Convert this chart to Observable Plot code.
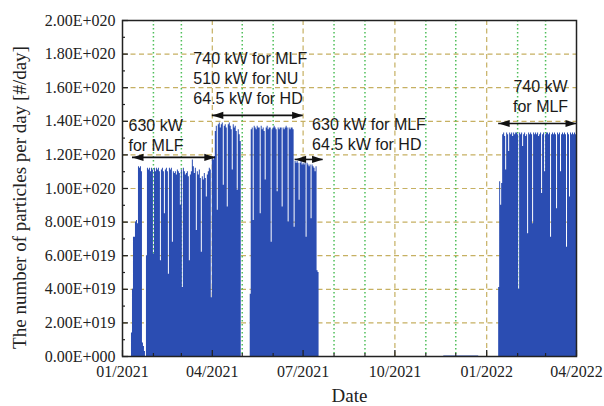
<!DOCTYPE html>
<html><head><meta charset="utf-8">
<script src="https://cdn.jsdelivr.net/npm/d3@7"></script>
<script src="https://cdn.jsdelivr.net/npm/@observablehq/plot@0.6"></script>
<style>body{margin:0;background:#fff;} #chart svg{display:block;}</style>
</head><body><div id="chart"></div>
<script>
// values in units of 1e19 particles/day
const UNIT = 1e19;
const segAStart = "2021-01-10";
const segA = [1.4,4.0,7.1,7.1,8.0,8.1,7.9,11.3,11.2,11.3,11.0,0.8,0.6,0.3,0,6.0,
 11.2,11.1,11.2,11.0,11.2,11.1,6.1,11.2,11.0,11.2,11.1,11.2,11.0,5.7,11.1,11.2,11.0,8.5,11.1,11.2,11.0,4.9,
 11.2,11.1,11.2,6.8,11.0,10.9,11.0,10.8,11.1,11.0,10.9,9.0,11.1,4.1,11.2,11.0,10.8,10.9,11.0,10.7,5.7,10.8,
 11.0,11.7,11.3,10.9,11.2,7.5,11.0,10.8,11.1,10.6,6.2,10.7,10.5,10.9,10.6,9.5,10.8,11.0,11.2,11.1,3.5,
 11.8,11.7,11.9,13.4,13.7,8.7,13.8,13.9,13.6,13.8,13.9,10.2,13.7,13.8,13.6,8.9,13.8,13.9,13.7,13.5,11.1,
 13.8,13.6,13.7,13.4,9.9,13.5,13.2,12.8];
const segBStart = "2021-05-09";
const segB = [3.7,13.5,13.6,8.1,13.7,13.6,13.5,13.7,13.6,13.6,8.5,13.7,13.5,13.6,13.4,10.5,13.6,13.7,13.5,
 13.6,13.6,6.8,13.5,13.6,13.7,13.6,13.5,9.8,13.6,13.5,13.6,13.6,8.9,13.6,13.5,13.6,13.7,13.6,8.0,13.6,13.5,
 13.6,13.6,13.5,7.7,11.6,11.5,11.6,11.5,9.3,11.5,11.6,11.4,11.5,11.4,11.5,7.1,11.5,11.4,11.3,11.4,8.2,
 11.4,11.3,11.2,11.0,11.3,5.1,5.0];
const segLowStart = "2021-11-19";
const segLow = [0.03,0.03,0.03,0.03,0.03,0.03,0.03,0.03,0.03,0.03,0.03,0.03,0.03,0.03,0.03,0.03,0.03,0.03,
 0.03,0.03,0.03,0.03,0.03,0.03,0.03,0.03,0.03,0.03,0.03,0.03,0.03,0.03,0.03,0.03,0.03];
const segCStart = "2022-01-13";
const segC = [4.1,10.4,9.0,10.3,13.2,13.3,13.1,11.1,13.3,13.2,12.2,13.3,13.2,13.3,13.1,13.3,13.2,13.3,13.3,
 13.2,4.0,13.3,13.2,13.3,12.5,13.2,13.3,13.1,13.2,7.3,13.3,13.2,13.3,13.2,7.9,13.3,13.2,13.3,13.2,13.3,13.1,
 13.2,13.3,9.7,13.2,13.3,11.0,13.2,13.3,13.3,13.2,13.3,7.1,13.2,13.3,13.2,13.3,13.2,8.8,13.3,13.2,13.3,11.0,
 13.2,13.3,13.2,13.3,13.2,6.5,13.3,13.2,9.5,13.3,13.2,13.3,13.2,13.3,13.2];

const xDomain = ["2021-01-01", "2022-04-01"];
const xMajorTicks = ["2021-01-01","2021-04-01","2021-07-01","2021-10-01","2022-01-01","2022-04-01"];
const yMajorTicks = [0,2,4,6,8,10,12,14,16,18,20];
const yMinorTicks = [1,3,5,7,9,11,13,15,17,19];

// annotations
const noteTexts = ["630 kW\nfor MLF", "740 kW for MLF\n510 kW for NU\n64.5 kW for HD", "630 kW for MLF\n64.5 kW for HD", "740 kW\nfor MLF"];
const noteDates = ["2021-01-07", "2021-03-13", "2021-07-10", "2022-02-24"];
const noteValues = [13.21, 16.6, 13.27, 15.54];
const noteAnchors = ["start", "start", "start", "middle"];
const arrowFrom = ["2021-01-11", "2021-04-01", "2021-06-23", "2022-01-13"];
const arrowTo = ["2021-04-04", "2021-07-01", "2021-07-21", "2022-04-01"];
const arrowValues = [11.85, 14.35, 11.73, 13.87];

const xLabel = "Date";
const yLabel = "The number of particles per day [#/day]";

// build daily series
const t0 = new Date(xDomain[0]), t1 = new Date(xDomain[1]);
const days = d3.utcDay.range(t0, t1);
const vals = new Array(days.length).fill(0);
function place(startStr, arr) {
  const off = d3.utcDay.count(t0, new Date(startStr));
  arr.forEach((v, i) => { if (off + i < vals.length) vals[off + i] = v; });
}
place(segAStart, segA); place(segBStart, segB); place(segLowStart, segLow); place(segCStart, segC);
const series = days.map((d, i) => ({date: d, v: vals[i] * UNIT}));
series.push({date: t1, v: vals[vals.length - 1] * UNIT});

const months = d3.utcMonth.range(t0, d3.utcDay.offset(t1, 1));
const quarterSet = new Set(xMajorTicks.map(s => +new Date(s)));
const minorMonths = months.filter(d => !quarterSet.has(+d));
const majorDates = xMajorTicks.map(s => new Date(s));

const notes = noteTexts.map((t, i) => ({t, date: new Date(noteDates[i]), v: noteValues[i] * UNIT, a: noteAnchors[i]}));
const arrows = arrowFrom.map((a, i) => ({a: new Date(a), b: new Date(arrowTo[i]), v: arrowValues[i] * UNIT}));

const fmt = v => {
  if (v === 0) return "0.00E+000";
  const e = Math.floor(Math.log10(v) + 1e-9);
  const m = v / Math.pow(10, e);
  return m.toFixed(2) + "E+" + String(e).padStart(3, "0");
};
const headRight = {draw(ctx) { ctx.moveTo(0, 0); ctx.lineTo(-11, -3.6); ctx.lineTo(-11, 3.6); ctx.closePath(); }};
const headLeft = {draw(ctx) { ctx.moveTo(0, 0); ctx.lineTo(11, -3.6); ctx.lineTo(11, 3.6); ctx.closePath(); }};

const BLUE = "#2b4db2";
const TAN = "#c6b062";
const GREEN = "#4fbf5a";
const SANS = "Liberation Sans, Arial, sans-serif";
const SERIF = "Liberation Serif, Times New Roman, serif";

const chart = Plot.plot({
  width: 604, height: 406,
  marginLeft: 122, marginRight: 28, marginTop: 20, marginBottom: 50,
  style: {fontFamily: SERIF, fontSize: "16px", color: "#222", background: "#fff"},
  x: {type: "utc", domain: [t0, t1]},
  y: {domain: [0, 20 * UNIT]},
  marks: [
    Plot.ruleY(yMajorTicks.slice(1, -1).map(k => k * UNIT), {stroke: TAN, strokeDasharray: "5,3.5", strokeWidth: 1.2}),
    Plot.ruleX(minorMonths, {stroke: GREEN, strokeDasharray: "1.5,2.5", strokeWidth: 1.5}),
    Plot.ruleX(majorDates.slice(1, -1), {stroke: TAN, strokeDasharray: "5,3.5", strokeWidth: 1.2}),
    Plot.areaY(series, {x: "date", y: "v", curve: "step-after", fill: BLUE}),
    Plot.axisY(yMajorTicks.map(k => k * UNIT), {tickSize: -6, tickPadding: 13, tickFormat: fmt, label: null, fontSize: 16, fontFamily: SERIF, strokeWidth: 1.3}),
    Plot.axisY(yMinorTicks.map(k => k * UNIT), {tickSize: -3, tickPadding: 0, tickFormat: () => "", label: null, strokeWidth: 1.2}),
    Plot.axisX(majorDates, {tickSize: -6, tickPadding: 15, tickFormat: d3.utcFormat("%m/%Y"), label: null, fontSize: 16, fontFamily: SERIF, strokeWidth: 1.3}),
    Plot.axisX(minorMonths, {tickSize: -3, tickPadding: 0, tickFormat: () => "", label: null, strokeWidth: 1.2}),
    Plot.frame({stroke: "#222", strokeWidth: 1.5}),
    Plot.ruleY(arrows, {y: "v", x1: "a", x2: "b", stroke: "#111", strokeWidth: 1.6}),
    Plot.dot(arrows, {x: "b", y: "v", symbol: headRight, fill: "#111", stroke: null}),
    Plot.dot(arrows, {x: "a", y: "v", symbol: headLeft, fill: "#111", stroke: null}),
    Plot.text(notes, {x: "date", y: "v", text: "t", textAnchor: "start", lineHeight: 1.25, fontSize: 16, fontFamily: SANS, fill: "#1a1a1a", filter: d => d.a === "start"}),
    Plot.text(notes, {x: "date", y: "v", text: "t", textAnchor: "middle", lineHeight: 1.25, fontSize: 16, fontFamily: SANS, fill: "#1a1a1a", filter: d => d.a === "middle"}),
    Plot.text([xLabel], {frameAnchor: "bottom", lineAnchor: "middle", textAnchor: "middle", dy: 39, fontSize: 19, fontFamily: SERIF, fill: "#222"}),
    Plot.text([yLabel], {frameAnchor: "left", rotate: -90, textAnchor: "middle", lineAnchor: "middle", dx: -103, dy: 9, fontSize: 19, fontFamily: SERIF, fill: "#222"})
  ]
});
document.getElementById("chart").appendChild(chart);
</script>
</body></html>
